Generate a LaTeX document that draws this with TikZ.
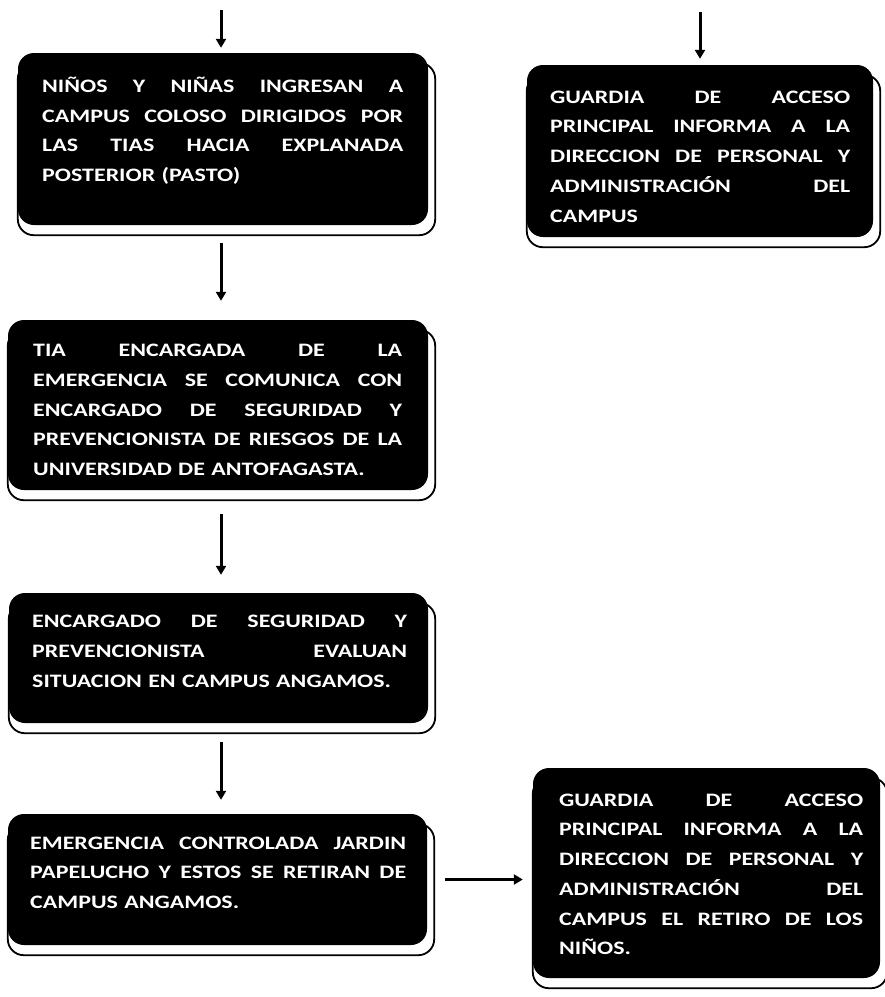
\documentclass[tikz,border=0pt]{standalone}
\usepackage{fontspec}
\newfontfamily\boxfont{Carlito}[FakeStretch=1.26]
\usetikzlibrary{arrows.meta,backgrounds}
\newcommand{\jl}[1]{\leavevmode\hbox to \hsize{\spaceskip=0.25em plus 1fil\relax #1}}
\begin{document}
\begin{tikzpicture}[x=1pt,y=-1pt,
  flowbox/.style={fill=black, draw=none, rounded corners=16pt, inner sep=0pt},
  shadowbox/.style={draw=black, line width=1.8pt, fill=white, rounded corners=16pt},
  boxtext/.style={text=white, anchor=base west, inner sep=0pt, align=left,
    font=\boxfont\bfseries\fontsize{19}{29.75}\selectfont},
  flowarrow/.style={line width=3pt, -{Triangle[length=9pt,width=10pt]}},
]
\useasboundingbox (0,0) rectangle (885,997);

% boxes
\node[flowbox, minimum width=410pt, minimum height=172pt] (b1) at (223,139) {};
\node[flowbox, minimum width=346pt, minimum height=172pt] (b2) at (700,151) {};
\node[flowbox, minimum width=420pt, minimum height=170pt] (b3) at (218,405) {};
\node[flowbox, minimum width=419pt, minimum height=130pt] (b4) at (218.5,658) {};
\node[flowbox, minimum width=419pt, minimum height=131pt] (b5) at (217.5,879.5) {};
\node[flowbox, minimum width=347pt, minimum height=210pt] (b6) at (706.5,873) {};

\begin{scope}[on background layer]
  \foreach \b in {b1,b2,b3,b4,b5,b6}
    \draw[shadowbox] ([shift={(0,10)}]\b.north west) rectangle ([shift={(7,10)}]\b.south east);
\end{scope}

% texts
\node[boxtext, text width=361pt] (t1) at (42,92.3) {%
\jl{NIÑOS Y NIÑAS INGRESAN A}\\
\jl{CAMPUS COLOSO DIRIGIDOS POR}\\
\jl{LAS TIAS HACIA EXPLANADA}\\
POSTERIOR (PASTO)};

\node[boxtext, text width=300pt] (t2) at (550,103) {%
\jl{GUARDIA DE ACCESO}\\
\jl{PRINCIPAL INFORMA A LA}\\
\jl{DIRECCION DE PERSONAL Y}\\
\jl{ADMINISTRACIÓN DEL}\\
CAMPUS};

\node[boxtext, text width=369pt] (t3) at (33,356.7) {%
\jl{TIA ENCARGADA DE LA}\\
\jl{EMERGENCIA SE COMUNICA CON}\\
\jl{ENCARGADO DE SEGURIDAD Y}\\
\jl{PREVENCIONISTA DE RIESGOS DE LA}\\
UNIVERSIDAD DE ANTOFAGASTA.};

\node[boxtext, text width=375pt] (t4) at (32,627.5) {%
\jl{ENCARGADO DE SEGURIDAD Y}\\
\jl{PREVENCIONISTA EVALUAN}\\
SITUACION EN CAMPUS ANGAMOS.};

\node[boxtext, text width=376pt] (t5) at (30,849) {%
\jl{EMERGENCIA CONTROLADA JARDIN}\\
\jl{PAPELUCHO Y ESTOS SE RETIRAN DE}\\
CAMPUS ANGAMOS.};

\node[boxtext, text width=304pt] (t6) at (559,806) {%
\jl{GUARDIA DE ACCESO}\\
\jl{PRINCIPAL INFORMA A LA}\\
\jl{DIRECCION DE PERSONAL Y}\\
\jl{ADMINISTRACIÓN DEL}\\
\jl{CAMPUS EL RETIRO DE LOS}\\
NIÑOS.};

% connectors
\coordinate (s1) at (221,10);
\coordinate (s2) at (700,12);
\draw[flowarrow, shorten >=5pt] (s1) -- (s1 |- b1.north);
\draw[flowarrow, shorten >=6pt] (s2) -- (s2 |- b2.north);
\draw[flowarrow, shorten <=18pt, shorten >=19pt] (b1.south -| s1) -- (b3.north -| s1);
\draw[flowarrow, shorten <=24pt, shorten >=18pt] (b3.south -| s1) -- (b4.north -| s1);
\draw[flowarrow, shorten <=19pt, shorten >=14pt] (b4.south -| s1) -- (b5.north -| s1);
\draw[flowarrow, shorten <=18pt, shorten >=10pt] (b5.east) -- (b5.east -| b6.west);
\end{tikzpicture}
\end{document}
